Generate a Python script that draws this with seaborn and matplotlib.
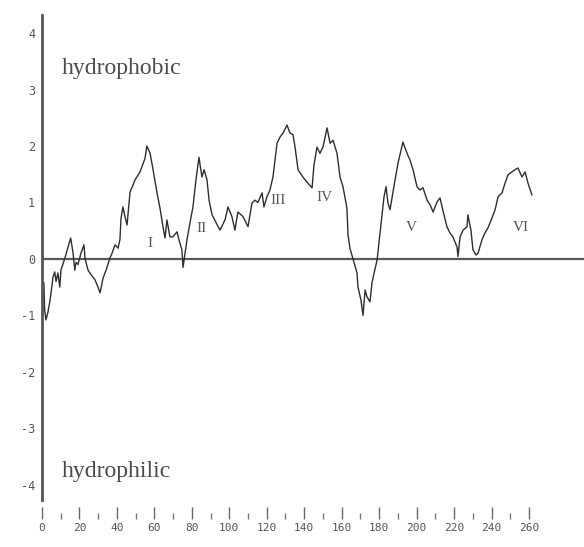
import matplotlib
matplotlib.use("Agg")
import matplotlib.pyplot as plt
from matplotlib.ticker import MultipleLocator, FixedLocator
import seaborn as sns
import pandas as pd

# Hydropathy profile (residue number vs. mean hydropathy index)
residue = [
    1, 1.4, 2.1, 3.2, 4.3, 5.9, 6.8, 7.5, 8.5, 9.5, 10.1, 12.1, 13.9, 15.3, 16.6,
    17.5, 18.2, 19.2, 20.8, 22.4, 23, 24.6, 26.2, 28.3, 29.9, 31, 32.6, 34.2,
    36.3, 37.4, 39, 40.6, 41.6, 42.2, 43.2, 44.3, 45.4, 47, 49.7, 52.3, 55, 56,
    57.7, 59.3, 61.4, 63, 64.6, 65.7, 66.7, 68.3, 69.9, 72.1, 73.1, 74.7, 75.3,
    77.4, 79, 80.6, 82.2, 83.8, 85.4, 86.5, 88.1, 89.2, 90.8, 95, 97.7, 99.3,
    101.4, 103, 104.6, 107.3, 110, 112.1, 113.7, 115.3, 117.5, 118.5, 120.1,
    121.7, 123.3, 124.4, 125.5, 127.1, 128.7, 130.8, 132.4, 134, 135.1, 136.7,
    139.3, 142, 144.2, 145.2, 146.8, 148.4, 150, 152.2, 153.8, 155.4, 157.5,
    159.1, 160.7, 162.8, 163.4, 164.4, 168.2, 168.7, 170.3, 171.4, 172.5, 173.5,
    175.1, 176.2, 177.3, 178.9, 179.9, 181.5, 182.6, 183.7, 184.7, 185.8, 187.4,
    188.5, 190.1, 192.7, 194.9, 196.5, 198.1, 200.2, 201.8, 203.4, 205.6, 207.2,
    208.8, 210.9, 212.5, 214.1, 216.2, 217.8, 219.4, 221.6, 222.1, 223.2, 224.8,
    226.9, 227.4, 229, 230.1, 231.7, 232.8, 234.9, 236.5, 238.1, 240.3, 241.9,
    243.5, 245.6, 247.2, 248.8, 250.9, 252.5, 254.1, 256.3, 257.9, 259.5, 261.6,
]
hydropathy = [
    -0.42, -0.90, -1.08, -0.94, -0.73, -0.32, -0.23, -0.40, -0.25, -0.50, -0.20,
    0.00, 0.21, 0.37, 0.10, -0.20, -0.06, -0.10, 0.10, 0.25, 0.00, -0.20, -0.28,
    -0.37, -0.50, -0.60, -0.34, -0.20, 0.02, 0.10, 0.25, 0.19, 0.34, 0.72, 0.92,
    0.75, 0.60, 1.18, 1.40, 1.54, 1.78, 2.00,
    1.87, 1.58, 1.17, 0.90, 0.57, 0.37, 0.69, 0.39, 0.39, 0.48, 0.34, 0.16,
    -0.15, 0.34, 0.64, 0.92, 1.40, 1.80, 1.45, 1.58, 1.40, 1.04, 0.78, 0.51,
    0.69, 0.92, 0.75, 0.51, 0.83, 0.75, 0.57, 0.99, 1.04, 1.00, 1.17, 0.92,
    1.10, 1.22, 1.45, 1.75, 2.05, 2.16, 2.23, 2.37, 2.23, 2.20, 1.98, 1.58,
    1.45, 1.34, 1.26, 1.66, 1.98, 1.87, 1.98, 2.32, 2.05, 2.10, 1.87, 1.45,
    1.28, 0.90, 0.42, 0.19, -0.25, -0.50, -0.73, -1.00, -0.55, -0.67, -0.76,
    -0.42, -0.25, -0.02, 0.28, 0.75, 1.10, 1.28, 0.99, 0.87, 1.19, 1.40, 1.70,
    2.07, 1.87, 1.75, 1.58, 1.28, 1.22, 1.26, 1.04, 0.96, 0.83, 1.01, 1.08,
    0.85, 0.57, 0.46, 0.39, 0.21, 0.04, 0.39, 0.51, 0.57, 0.78, 0.51, 0.16,
    0.07, 0.10, 0.34, 0.46, 0.55, 0.73, 0.87, 1.10, 1.17, 1.34, 1.49, 1.54,
    1.58, 1.61, 1.45, 1.54, 1.34, 1.13,
]

# Transmembrane segment labels and their positions
segment_labels = ["I", "II", "III", "IV", "V", "VI"]
segment_x = [57.7, 85.4, 126, 151, 197, 255.7]
segment_y = [0.28, 0.53, 1.04, 1.08, 0.55, 0.55]

y_ticks = [-4, -3, -2, -1, 0, 1, 2, 3, 4]
x_major_ticks = list(range(0, 261, 20))
x_minor_ticks = list(range(10, 251, 20))

sns.set_style("white")
plt.rcParams["axes.unicode_minus"] = False

W, H = 584, 547
fig = plt.figure(figsize=(W / 100, H / 100), dpi=100)
left_px, top_px, bottom_px = 42, 15, 500
ax = fig.add_axes([left_px / W, 1 - bottom_px / H, (W - left_px) / W,
                   (bottom_px - top_px) / H])

df = pd.DataFrame({"residue": residue, "hydropathy": hydropathy})
sns.lineplot(data=df, x="residue", y="hydropathy", ax=ax, color="#2e2e2e",
             linewidth=1.0, sort=False, estimator=None)

ax.axhline(0, color="#5a5a5a", linewidth=1.6, zorder=1)

px_per_res = 1.873
ax.set_xlim(0, (W - left_px) / px_per_res)
ax.set_ylim(-4.27, 4.32)

for s in ("top", "right"):
    ax.spines[s].set_visible(False)
ax.spines["left"].set_color("#555555")
ax.spines["left"].set_linewidth(2.0)
ax.spines["bottom"].set_position(("outward", 19 * 0.72))
ax.spines["bottom"].set_color("none")

mono = "DejaVu Sans Mono"
ax.set_yticks(y_ticks)
ax.set_yticklabels([str(t) for t in y_ticks], fontfamily=mono, fontsize=8.5,
                   color="#555555")
ax.tick_params(axis="y", length=4, width=1.0, color="#555555", pad=1)

ax.xaxis.set_major_locator(FixedLocator(x_major_ticks))
ax.xaxis.set_minor_locator(FixedLocator(x_minor_ticks))
ax.set_xticklabels([str(t) for t in x_major_ticks], fontfamily=mono,
                   fontsize=8, color="#555555")
ax.tick_params(axis="x", which="major", direction="in", length=9, width=1.0,
               color="#666666", pad=3, bottom=True)
ax.tick_params(axis="x", which="minor", direction="in", length=4, width=1.0,
               color="#777777", bottom=True)
ax.set_xlabel("")
ax.set_ylabel("")
ax.grid(False)

serif = "Liberation Serif"
ax.text(10.7, 3.38, "hydrophobic", fontfamily=serif, fontsize=17,
        color="#4a4a4a", ha="left", va="center")
ax.text(10.7, -3.77, "hydrophilic", fontfamily=serif, fontsize=17,
        color="#4a4a4a", ha="left", va="center")

for lab, x, y in zip(segment_labels, segment_x, segment_y):
    ax.text(x, y, lab, fontfamily=serif, fontsize=11, color="#555555",
            ha="center", va="center")

fig.savefig("out.png", dpi=100, facecolor="white")
